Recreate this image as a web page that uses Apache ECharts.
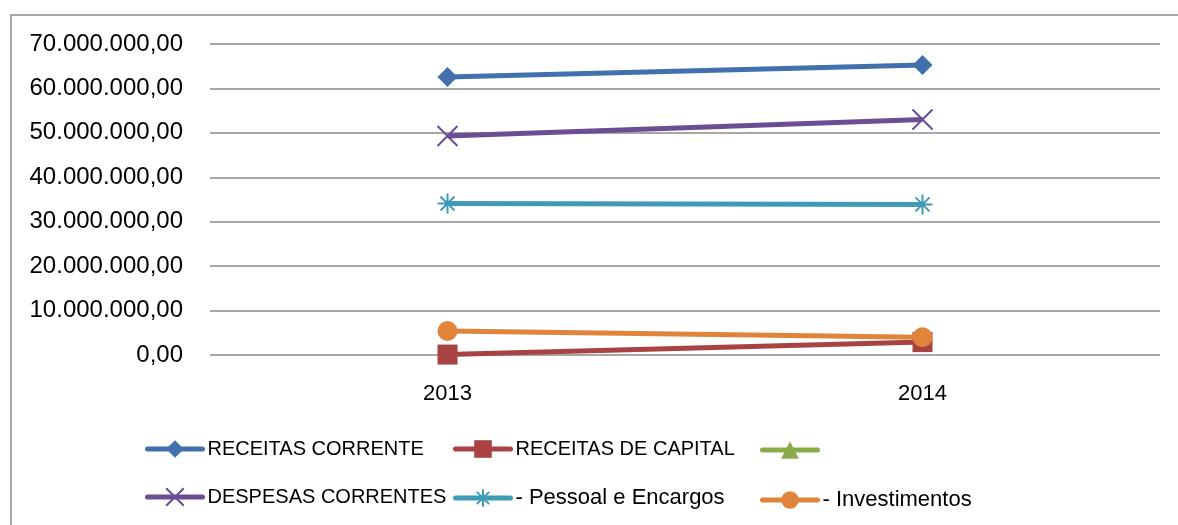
<!DOCTYPE html>
<html>
<head>
<meta charset="utf-8">
<script src="https://cdn.jsdelivr.net/npm/echarts@6/dist/echarts.min.js"></script>
<style>
  html, body { margin: 0; padding: 0; background: #fff; }
  #chart { width: 1178px; height: 525px; }
</style>
</head>
<body>
<div id="chart"></div>
<script>
// dados do gráfico
var anos = ['2013', '2014'];
var receitasCorrente = [62600000, 65300000];
var receitasCapital = [100000, 2900000];
var semNome = [null, null];
var despesasCorrentes = [49300000, 53000000];
var pessoalEncargos = [34100000, 33900000];
var investimentos = [5400000, 4000000];

var nomes = ['RECEITAS CORRENTE', 'RECEITAS DE CAPITAL', ' ', 'DESPESAS CORRENTES', '- Pessoal e Encargos', '- Investimentos'];
var cores = ['#4170ac', '#a94343', '#8aab4a', '#6c4d94', '#3f9bb5', '#e0843c'];

var fonte = "'Liberation Sans', Arial, sans-serif";

function fmt(v) {
  return String(v).replace(/\B(?=(\d{3})+(?!\d))/g, '.') + ',00';
}

function serie(i, dados, simbolo, estilo) {
  return {
    name: nomes[i],
    type: 'line',
    data: dados,
    symbol: simbolo,
    symbolSize: 20,
    lineStyle: { width: 5, color: cores[i] },
    itemStyle: estilo || { color: cores[i] },
    z: 2 + i
  };
}

// item de legenda, maiúsculas com fonte menor (Calibri é mais estreita)
function item(nome, tam) {
  return { name: nome, textStyle: { fontSize: tam } };
}

function legenda(left, dados) {
  return {
    orient: 'vertical',
    left: left,
    top: 434,
    itemWidth: 55,
    itemHeight: 22,
    itemGap: 28,
    data: dados,
    lineStyle: { width: 5, cap: 'round' },
    textStyle: { fontFamily: fonte, fontSize: 22, color: '#000' }
  };
}

var chart = echarts.init(document.getElementById('chart'));
var option = {
  animation: false,
  graphic: [{
    type: 'rect',
    shape: { x: 11, y: 15, width: 1300, height: 700 },
    style: { fill: 'none', stroke: '#8c8c8c', lineWidth: 1.5 },
    silent: true
  }],
  grid: { left: 210, right: 18, top: 44, bottom: 170 },
  legend: [
    legenda(140, [item(nomes[0], 20), item(nomes[3], 20)]),
    legenda(448, [item(nomes[1], 20), item(nomes[4], 22)]),
    legenda(755, [item(nomes[2], 22), item(nomes[5], 22)])
  ],
  xAxis: {
    type: 'category',
    data: anos,
    boundaryGap: true,
    axisLine: { show: false },
    axisTick: { show: false },
    axisLabel: { fontFamily: fonte, fontSize: 22, color: '#000', margin: 28 }
  },
  yAxis: {
    type: 'value',
    min: 0,
    max: 70000000,
    interval: 10000000,
    axisLine: { show: false },
    axisTick: { show: false },
    splitLine: { lineStyle: { color: '#8a8a8a', width: 1.5 } },
    axisLabel: { fontFamily: fonte, fontSize: 24, color: '#000', margin: 27, formatter: fmt }
  },
  series: [
    serie(0, receitasCorrente, 'diamond'),
    serie(1, receitasCapital, 'rect'),
    serie(2, semNome, 'triangle'),
    serie(3, despesasCorrentes, 'path://M0,0L20,20M20,0L0,20',
      { color: cores[3], borderColor: cores[3], borderWidth: 2 }),
    serie(4, pessoalEncargos, 'path://M10,0L10,20M0,10L20,10M3,3L17,17M17,3L3,17',
      { color: cores[4], borderColor: cores[4], borderWidth: 2 }),
    serie(5, investimentos, 'circle')
  ]
};
chart.setOption(option);
</script>
</body>
</html>
